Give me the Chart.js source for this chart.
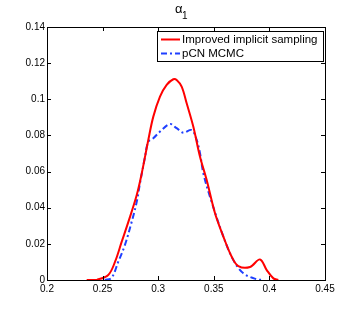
<!DOCTYPE html>
<html>
<head>
<meta charset="utf-8">
<script src="https://cdn.jsdelivr.net/npm/chart.js@4"></script>
<style>
  html, body { margin: 0; padding: 0; background: #fff; }
  #wrap { width: 360px; height: 315px; }
</style>
</head>
<body>
<div id="wrap"><canvas id="densityChart" width="360" height="315"></canvas></div>
<script>
// Red curve: improved implicit sampling
const implicitX = [0.2357, 0.245, 0.2551, 0.2612, 0.2672, 0.2731, 0.2807, 0.2852, 0.2911, 0.2956, 0.3016, 0.3076, 0.3136, 0.3166, 0.3211, 0.3256, 0.3316, 0.3376, 0.3436, 0.3511, 0.3586, 0.3661, 0.3721, 0.3826, 0.3915, 0.3976, 0.4036, 0.408];
const implicitY = [0, 0.0002, 0.0028, 0.0101, 0.0212, 0.032, 0.047, 0.059, 0.0775, 0.0904, 0.1015, 0.108, 0.1111, 0.1107, 0.107, 0.0978, 0.0848, 0.0682, 0.0553, 0.0369, 0.024, 0.0129, 0.0077, 0.0072, 0.0114, 0.0055, 0.0009, 0];

// Blue curve: pCN MCMC
const pcnX = [0.252, 0.2581, 0.2641, 0.2701, 0.2762, 0.2807, 0.2836, 0.2881, 0.2911, 0.2956, 0.3016, 0.3106, 0.3166, 0.3226, 0.3301, 0.3346, 0.3376, 0.3406, 0.3466, 0.3586, 0.3676, 0.3766, 0.3886, 0.3946];
const pcnY = [0, 0.0012, 0.0101, 0.0194, 0.0323, 0.0433, 0.0535, 0.068, 0.0765, 0.0785, 0.0821, 0.0863, 0.084, 0.0815, 0.083, 0.0775, 0.0701, 0.059, 0.046, 0.024, 0.011, 0.0037, 0.0004, 0];

const seriesNames = ['Improved implicit sampling', 'pCN MCMC'];
const titleMain = 'α';
const titleSub = '1';
const xTicks = [0.2, 0.25, 0.3, 0.35, 0.4, 0.45];
const yTicks = [0, 0.02, 0.04, 0.06, 0.08, 0.1, 0.12, 0.14];

const toPoints = (xs, ys) => xs.map((x, i) => ({ x: x, y: ys[i] }));
const FONT = '"Liberation Sans", Arial, sans-serif';

// matlab-ish box, inward ticks, title and legend
const matlabFrame = {
    id: 'matlabFrame',
    afterDraw(chart) {
        const ctx = chart.ctx;
        const a = chart.chartArea;
        const xs = chart.scales.x, ys = chart.scales.y;
        ctx.save();
        ctx.strokeStyle = '#000';
        ctx.lineWidth = 1;
        ctx.strokeRect(a.left + 0.5, a.top + 0.5, a.right - a.left, a.bottom - a.top);
        ctx.beginPath();
        xTicks.forEach(v => {
            const px = Math.round(xs.getPixelForValue(v)) + 0.5;
            ctx.moveTo(px, a.bottom); ctx.lineTo(px, a.bottom - 4);
            ctx.moveTo(px, a.top); ctx.lineTo(px, a.top + 4);
        });
        yTicks.forEach(v => {
            const py = Math.round(ys.getPixelForValue(v)) + 0.5;
            ctx.moveTo(a.left, py); ctx.lineTo(a.left + 4, py);
            ctx.moveTo(a.right, py); ctx.lineTo(a.right - 4, py);
        });
        ctx.stroke();

        // title: alpha with subscript 1
        ctx.fillStyle = '#000';
        ctx.textAlign = 'left';
        ctx.textBaseline = 'alphabetic';
        ctx.font = '13px ' + FONT;
        ctx.fillText(titleMain, 175, 13);
        ctx.font = '10px ' + FONT;
        ctx.fillText(titleSub, 182, 19);

        // legend
        const lx = 157, ly = 31, lw = 166, lh = 30;
        ctx.fillStyle = '#fff';
        ctx.fillRect(lx, ly, lw, lh);
        ctx.strokeStyle = '#000';
        ctx.strokeRect(lx + 0.5, ly + 0.5, lw, lh);
        ctx.font = '11.5px ' + FONT;
        ctx.textBaseline = 'middle';
        chart.data.datasets.forEach((ds, i) => {
            const cy = ly + 8.5 + i * 14;
            ctx.beginPath();
            ctx.strokeStyle = ds.borderColor;
            ctx.lineWidth = ds.borderWidth;
            ctx.setLineDash(ds.borderDash || []);
            ctx.moveTo(161, cy); ctx.lineTo(180, cy);
            ctx.stroke();
            ctx.setLineDash([]);
            ctx.fillStyle = '#000';
            ctx.fillText(ds.label, 182, cy + 0.5);
        });
        ctx.restore();
    }
};

const ctx = document.getElementById('densityChart').getContext('2d');
new Chart(ctx, {
    type: 'line',
    data: {
        datasets: [{
            label: seriesNames[0],
            data: toPoints(implicitX, implicitY),
            borderColor: '#ff0000',
            borderWidth: 2,
            pointRadius: 0,
            tension: 0.35,
            fill: false
        }, {
            label: seriesNames[1],
            data: toPoints(pcnX, pcnY),
            borderColor: '#1f3fff',
            borderWidth: 2,
            borderDash: [6, 3, 2, 3],
            pointRadius: 0,
            tension: 0.35,
            fill: false
        }]
    },
    options: {
        responsive: false,
        animation: false,
        layout: { padding: { top: 27, right: 35, left: 0, bottom: 0 } },
        plugins: {
            legend: { display: false },
            title: { display: false },
            tooltip: { enabled: false }
        },
        scales: {
            x: {
                type: 'linear',
                min: 0.2,
                max: 0.45,
                afterBuildTicks: s => { s.ticks = xTicks.map(v => ({ value: v })); },
                afterFit: s => { s.height = 35; },
                grid: { display: false, drawTicks: false },
                border: { display: false },
                ticks: {
                    padding: 3,
                    color: '#000',
                    maxRotation: 0,
                    font: { family: FONT, size: 10 },
                    callback: v => String(v)
                }
            },
            y: {
                type: 'linear',
                min: 0,
                max: 0.14,
                afterBuildTicks: s => { s.ticks = yTicks.map(v => ({ value: v })); },
                afterFit: s => { s.width = 47; },
                grid: { display: false, drawTicks: false },
                border: { display: false },
                ticks: {
                    padding: 2,
                    color: '#000',
                    font: { family: FONT, size: 10 },
                    callback: v => String(v)
                }
            }
        }
    },
    plugins: [matlabFrame]
});
</script>
</body>
</html>
